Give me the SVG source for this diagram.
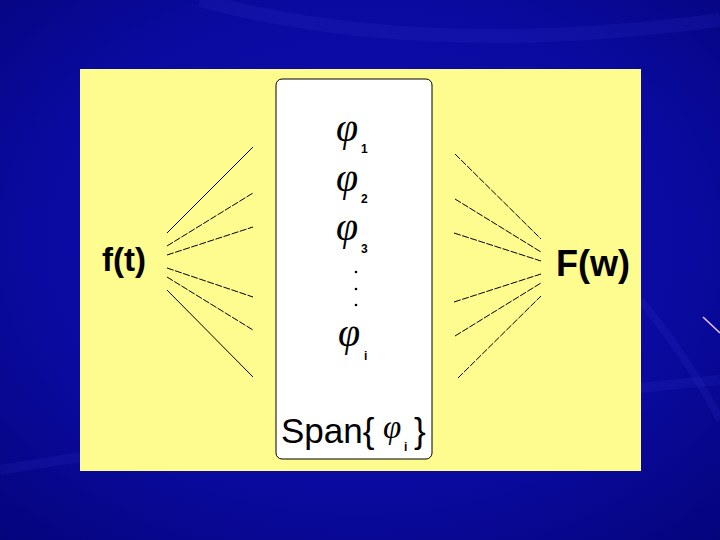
<svg xmlns="http://www.w3.org/2000/svg" width="720" height="540" viewBox="0 0 720 540">
<defs>
<radialGradient id="bg" cx="0.5" cy="0.45" r="0.75">
<stop offset="0" stop-color="#1212b4"/>
<stop offset="0.6" stop-color="#0a0aa0"/>
<stop offset="1" stop-color="#04047c"/>
</radialGradient>
<style>
.ln{stroke:#000;stroke-width:1;fill:none}
.dash{stroke-dasharray:7 1.5}
.lbl{font-family:"Liberation Sans",Arial,sans-serif;font-weight:bold;fill:#000}
.phi{font-family:"Liberation Serif","Times New Roman",serif;font-style:italic;fill:#000}
.sub{font-family:"Liberation Sans",Arial,sans-serif;font-weight:bold;font-size:12px;fill:#000}
.span{font-family:"Liberation Sans",Arial,sans-serif;fill:#000}
.swirl{fill:none;stroke:#3030c8;stroke-opacity:0.18}
</style>
</defs>
<rect x="0" y="0" width="720" height="540" fill="url(#bg)"/>
<path class="swirl" stroke-width="14" d="M 200 0 Q 420 60 720 20"/>
<path class="swirl" stroke-width="10" d="M 0 470 Q 300 420 720 380"/>
<path class="swirl" stroke-width="8" d="M 640 300 Q 690 360 720 420"/>
<line x1="703" y1="317" x2="720" y2="333" stroke="#e6c8ff" stroke-width="1.5"/>
<rect x="80" y="69" width="561" height="402" fill="#fefb8f"/>

<g id="connectors">
<line class="ln" x1="167" y1="233" x2="253" y2="147"/>
<line class="ln dash" x1="167" y1="246" x2="253" y2="193"/>
<line class="ln dash" x1="167" y1="255" x2="253" y2="227"/>
<line class="ln dash" x1="167" y1="268" x2="253" y2="297"/>
<line class="ln dash" x1="167" y1="277" x2="253" y2="330"/>
<line class="ln" x1="167" y1="290" x2="253" y2="377"/>
<line class="ln dash" x1="455" y1="154" x2="541" y2="239"/>
<line class="ln dash" x1="455" y1="199" x2="541" y2="252"/>
<line class="ln dash" x1="454" y1="233" x2="541" y2="261"/>
<line class="ln dash" x1="454" y1="302" x2="541" y2="274"/>
<line class="ln dash" x1="455" y1="336" x2="541" y2="283"/>
<line class="ln dash" x1="458" y1="378" x2="541" y2="296"/>
</g>

<g id="ft">
<text class="lbl" x="102" y="271" font-size="33">f(t)</text>
</g>

<g id="Fw">
<text class="lbl" x="556" y="276" font-size="36">F(w)</text>
</g>

<g id="span">
<rect x="276" y="79" width="156" height="380" rx="6" ry="6" fill="#fff" stroke="#000" stroke-width="1"/>
<text class="phi" x="336" y="141" font-size="40">φ</text>
<text class="sub" x="361" y="153">1</text>
<text class="phi" x="336" y="191" font-size="40">φ</text>
<text class="sub" x="361" y="203">2</text>
<text class="phi" x="336" y="240" font-size="40">φ</text>
<text class="sub" x="361" y="253">3</text>
<circle cx="356" cy="272" r="1.3" fill="#000"/>
<circle cx="356" cy="289" r="1.3" fill="#000"/>
<circle cx="356" cy="305" r="1.3" fill="#000"/>
<text class="phi" x="338" y="346" font-size="40">φ</text>
<text class="sub" x="364" y="360">i</text>
<text class="span" x="281" y="443" font-size="35">Span{</text>
<text class="phi" x="383" y="438" font-size="33">φ</text>
<text class="sub" x="404" y="451" font-weight="normal">i</text>
<text class="span" x="414" y="443" font-size="35">}</text>
</g>
</svg>
